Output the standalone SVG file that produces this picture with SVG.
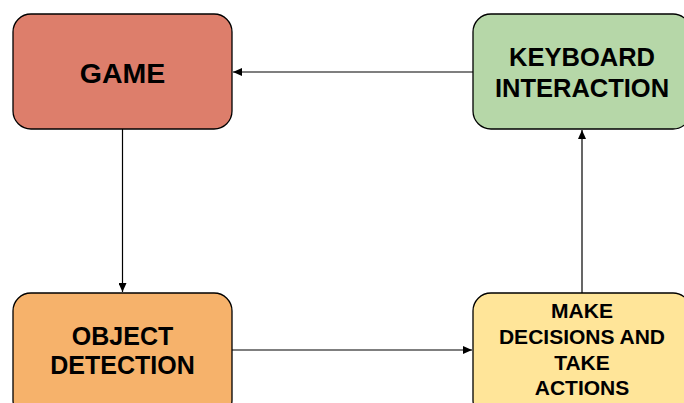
<svg xmlns="http://www.w3.org/2000/svg" width="684" height="403" viewBox="0 0 684 403">
<style>
.box{stroke:#000;stroke-width:1.3}
.t{font-family:"Liberation Sans",Arial,sans-serif;font-weight:bold;text-anchor:middle;fill:#000}
.c{stroke:#000;stroke-width:1.2;fill:none}
</style>
<defs>
<marker id="ah" markerWidth="10" markerHeight="8" refX="9" refY="4" orient="auto" markerUnits="userSpaceOnUse">
<path d="M0,0 L9,4 L0,8 Z" fill="#000"/>
</marker>
</defs>
<rect width="684" height="403" fill="#fff"/>
<g id="connectors">
<line class="c" x1="122.5" y1="129" x2="122.5" y2="292" marker-end="url(#ah)"/>
<line class="c" x1="473" y1="72" x2="233" y2="72" marker-end="url(#ah)"/>
<line class="c" x1="232" y1="350" x2="472" y2="350" marker-end="url(#ah)"/>
<line class="c" x1="582" y1="293" x2="582" y2="130" marker-end="url(#ah)"/>
</g>
<g id="game">
<rect class="box" x="13" y="14" width="219" height="115" rx="18" fill="#dd7e6b"/>
<text class="t" x="122.5" y="83" font-size="28.5">GAME</text>
</g>
<g id="keyboard">
<rect class="box" x="473" y="14" width="218" height="115" rx="18" fill="#b6d7a8"/>
<text class="t" x="582" y="66" font-size="25.5">KEYBOARD</text>
<text class="t" x="582" y="97" font-size="25.5">INTERACTION</text>
</g>
<g id="object">
<rect class="box" x="13" y="293" width="219" height="125" rx="18" fill="#f6b26b"/>
<text class="t" x="122.5" y="345" font-size="25">OBJECT</text>
<text class="t" x="122.5" y="374" font-size="25">DETECTION</text>
</g>
<g id="decide">
<rect class="box" x="473" y="293" width="218" height="125" rx="18" fill="#ffe599"/>
<text class="t" x="582" y="318" font-size="21">MAKE</text>
<text class="t" x="582" y="344" font-size="21">DECISIONS AND</text>
<text class="t" x="582" y="370" font-size="21">TAKE</text>
<text class="t" x="582" y="395" font-size="21">ACTIONS</text>
</g>
</svg>
